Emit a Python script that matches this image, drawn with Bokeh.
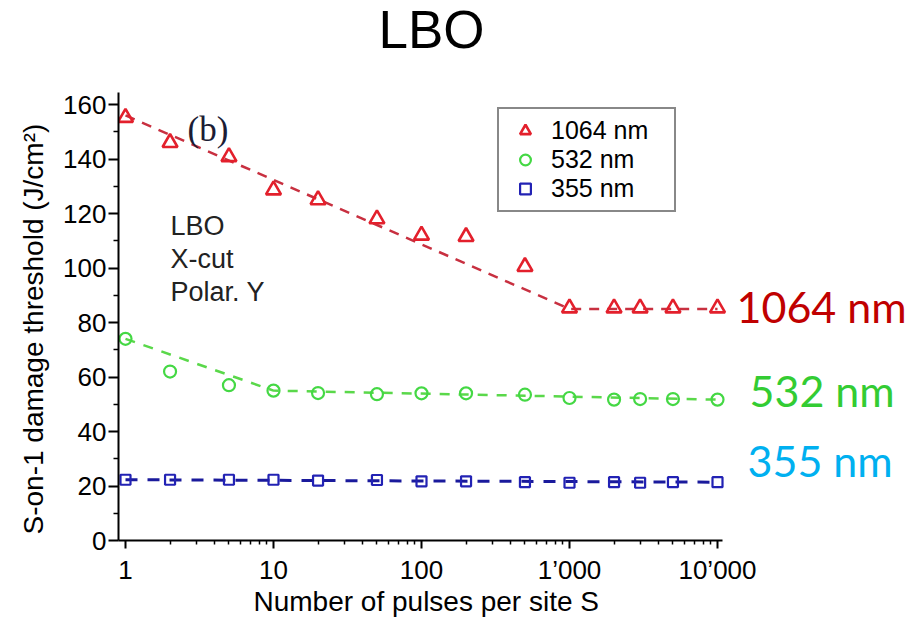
from bokeh.plotting import figure
from bokeh.models import FixedTicker, Label, Legend, LegendItem, Range1d, Title
from bokeh.embed import file_html
from bokeh.resources import INLINE

# ---------------- data ----------------
pulses = [1, 2, 5, 10, 20, 50, 100, 200, 500, 1000, 2000, 3000, 5000, 10000]
thr_1064 = [155.2, 146.0, 140.8, 128.6, 125.0, 118.0, 112.0, 111.5, 100.5, 85.3, 85.3, 85.3, 85.3, 85.3]
thr_532 = [74.0, 62.0, 57.0, 55.0, 54.1, 53.7, 54.0, 54.0, 53.5, 52.3, 51.7, 51.9, 51.9, 51.7]
thr_355 = [22.3, 22.3, 22.3, 22.3, 22.0, 22.2, 21.7, 21.7, 21.4, 21.2, 21.4, 21.2, 21.4, 21.4]

fit_1064_x = [1, 1000, 10000]
fit_1064_y = [156.0, 85.0, 85.0]
fit_532_x = [1, 10, 10000]
fit_532_y = [74.0, 55.0, 51.7]
fit_355_x = [1, 10000]
fit_355_y = [22.3, 21.4]

series_names = ["1064 nm", "532 nm", "355 nm"]
x_ticks = [1, 10, 100, 1000, 10000]
x_tick_labels = ["1", "10", "100", "1\u2019000", "10\u2019000"]
y_ticks = [0, 20, 40, 60, 80, 100, 120, 140, 160]
y_minor_ticks = [10, 30, 50, 70, 90, 110, 130, 150]

# ---------------- page-pixel helpers for annotation placement ----------------
def dx(px):
    return 10 ** ((px - 125.0) / 148.0)

def dy(py):
    return (540.0 - py) / 2.725

def base_y(baseline_px, size_px):
    # Label's alphabetic baseline lands ~0.39 em below the anchor; compensate
    return dy(baseline_px - 0.39 * size_px)

FONT = "Liberation Sans"

p = figure(width=915, height=617, x_axis_type="log",
           x_range=Range1d(dx(118), dx(912)), y_range=Range1d(0, dy(0)),
           output_backend="svg", toolbar_location=None,
           min_border_left=118, min_border_right=3,
           min_border_top=0, min_border_bottom=77,
           outline_line_color=None, background_fill_color="white",
           border_fill_color="white")
p.grid.visible = False

# ---------------- axes ----------------
xa = p.xaxis[0]
xa.ticker = FixedTicker(ticks=x_ticks,
                        minor_ticks=[m * 10 ** e for e in range(4) for m in range(2, 10)])
xa.major_label_overrides = dict(zip(x_ticks, x_tick_labels))
xa.bounds = (dx(118), dx(722))
xa.major_tick_out = 8
xa.minor_tick_out = 4
xa.major_label_standoff = 6

ya = p.yaxis[0]
ya.ticker = FixedTicker(ticks=y_ticks, minor_ticks=y_minor_ticks)
ya.bounds = (0, dy(92))
ya.major_tick_out = 10
ya.minor_tick_out = 5
ya.major_label_standoff = 2

for ax in (xa, ya):
    ax.axis_line_width = 2
    ax.axis_line_color = "black"
    ax.major_tick_in = 0
    ax.minor_tick_in = 0
    ax.major_tick_line_width = 2
    ax.minor_tick_line_width = 1.5
    ax.major_tick_line_color = "black"
    ax.minor_tick_line_color = "black"
    ax.major_label_text_font = FONT
    ax.major_label_text_font_size = "26px"
    ax.major_label_text_color = "black"

# axis titles as side-panel titles (so they can be placed off-centre)
p.add_layout(Title(text="Number of pulses per site S", align="left", offset=135,
                   vertical_align="bottom", standoff=-7, text_font=FONT,
                   text_font_size="28px", text_font_style="normal",
                   text_color="black"), "below")
p.add_layout(Title(text="S-on-1 damage threshold (J/cm\u00b2)", align="left", offset=6,
                   vertical_align="middle", standoff=22, text_font=FONT,
                   text_font_size="28px", text_font_style="normal",
                   text_color="black"), "left")

# ---------------- fit lines ----------------
p.line(fit_1064_x, fit_1064_y, line_color="#c83040", line_width=2.5, line_dash="10 8")
p.line(fit_532_x, fit_532_y, line_color="#5ad84a", line_width=2.5, line_dash="10 9")
p.line(fit_355_x, fit_355_y, line_color="#1a1a9c", line_width=3, line_dash="12 10")

# ---------------- markers ----------------
r1 = p.scatter(pulses, thr_1064, marker="triangle", size=15, line_color="#e3202c",
               fill_color=None, line_width=2.6)
r2 = p.scatter(pulses, thr_532, marker="circle", size=12, line_color="#44d844",
               fill_color=None, line_width=2.2)
r3 = p.scatter(pulses, thr_355, marker="square", size=10, line_color="#2222b4",
               fill_color=None, line_width=2.2)

legend = Legend(items=[LegendItem(label=series_names[0], renderers=[r1]),
                       LegendItem(label=series_names[1], renderers=[r2]),
                       LegendItem(label=series_names[2], renderers=[r3])],
                location=(379, 328), margin=0, padding=7, spacing=0,
                glyph_width=38, glyph_height=27, label_height=27, label_width=116,
                label_standoff=7, label_text_font=FONT, label_text_font_size="25px",
                label_text_color="black", border_line_color="#111111",
                border_line_width=2, background_fill_color="white",
                background_fill_alpha=1.0)
p.add_layout(legend)

# ---------------- texts ----------------
p.add_layout(Label(x=dx(431), y=base_y(50, 53), text="LBO", text_align="center",
                   text_baseline="alphabetic", text_font=FONT,
                   text_font_size="53px", text_color="black"))
p.add_layout(Label(x=dx(187), y=base_y(143, 35), text="(b)", text_baseline="alphabetic",
                   text_font="Liberation Serif", text_font_size="35px",
                   text_color="#1c1c34"))
for txt, base in zip(["LBO", "X-cut", "Polar. Y"], [236, 269, 302]):
    p.add_layout(Label(x=dx(170), y=base_y(base, 27), text=txt,
                       text_baseline="alphabetic", text_font=FONT,
                       text_font_size="27px", text_color="#222222"))

side_labels = [("1064 nm", 736, 323, "#c00000"),
               ("532 nm", 749, 407, "#33cc33"),
               ("355 nm", 747, 477, "#00b0f0")]
for txt, lx, base, col in side_labels:
    p.add_layout(Label(x=dx(lx), y=base_y(base, 43), text=txt,
                       text_baseline="alphabetic", text_font="Lato",
                       text_font_size="43px", text_color=col))

open("out.html", "w").write(file_html(p, INLINE))
